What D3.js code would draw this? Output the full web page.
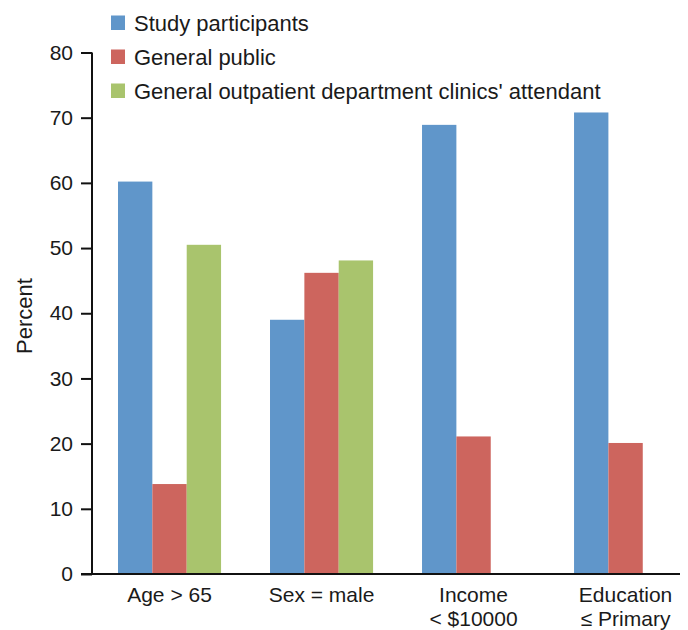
<!DOCTYPE html>
<html>
<head>
<meta charset="utf-8">
<script src="https://cdn.jsdelivr.net/npm/d3@7"></script>
<style>
  html, body { margin: 0; padding: 0; background: #fff; }
  text { font-family: "Liberation Sans", Arial, sans-serif; fill: #1a1a1a; }
</style>
</head>
<body>
<svg id="chart" width="688" height="630"></svg>
<script>
const categories = [["Age > 65"], ["Sex = male"], ["Income", "< $10000"], ["Education", "≤ Primary"]];
const seriesNames = ["Study participants", "General public", "General outpatient department clinics' attendant"];
const studyParticipants = [60.2, 39.0, 68.9, 70.8];
const generalPublic = [13.8, 46.2, 21.1, 20.1];
const gopcAttendant = [50.5, 48.1, null, null];
const yTicks = [0, 10, 20, 30, 40, 50, 60, 70, 80];
const colors = ["#6096ca", "#cd655e", "#a9c46d"];

const seriesValues = [studyParticipants, generalPublic, gopcAttendant];
const svg = d3.select("#chart");

const x0 = d3.scaleBand().domain(d3.range(categories.length))
  .range([92, 680]).paddingInner(0.322).paddingOuter(0.095).align(0.9);
const x1 = d3.scaleBand().domain(d3.range(seriesNames.length)).range([0, x0.bandwidth()]);
const y = d3.scaleLinear().domain([0, 80]).range([574, 52.5]);

// bars
categories.forEach((c, ci) => {
  seriesValues.forEach((vals, si) => {
    const v = vals[ci];
    if (v == null) return;
    svg.append("rect")
      .attr("x", x0(ci) + x1(si))
      .attr("y", y(v))
      .attr("width", x1.bandwidth())
      .attr("height", y(0) - y(v))
      .attr("fill", colors[si]);
  });
});

// y axis
const yAxis = d3.axisLeft(y).tickValues(yTicks).tickSize(11).tickPadding(8);
const gy = svg.append("g").attr("transform", "translate(92,0)").call(yAxis);
gy.select(".domain").attr("stroke", "#111").attr("stroke-width", 2).attr("d", "M0," + y(80) + "V" + y(0));
gy.selectAll(".tick line").attr("stroke", "#111").attr("stroke-width", 2);
gy.selectAll(".tick text").style("font-size", "21px").style("font-family", "'Liberation Sans', Arial, sans-serif").attr("fill", "#1a1a1a");

// x axis baseline
const xAxis = d3.axisBottom(x0).tickSize(0).tickFormat("");
const gx = svg.append("g").attr("transform", "translate(0," + y(0) + ")").call(xAxis);
gx.select(".domain").attr("stroke", "#111").attr("stroke-width", 2).attr("d", "M81,0H680");

// x labels
categories.forEach((c, ci) => {
  const cx = x0(ci) + x0.bandwidth() / 2;
  const t = svg.append("text").attr("x", cx).attr("y", 602)
    .attr("text-anchor", "middle").style("font-size", "21px");
  c.forEach((line, li) => {
    t.append("tspan").attr("x", cx).attr("dy", li === 0 ? 0 : 24).text(line);
  });
});

// y label
svg.append("text")
  .attr("transform", "translate(32," + 316 + ") rotate(-90)")
  .attr("text-anchor", "middle").style("font-size", "22px").text("Percent");

// legend
seriesNames.forEach((name, i) => {
  const base = 31 + i * 34;
  svg.append("rect").attr("x", 111).attr("y", base - 15.5).attr("width", 14).attr("height", 14.5).attr("fill", colors[i]);
  svg.append("text").attr("x", 134).attr("y", base).style("font-size", "22px").text(name);
});
</script>
</body>
</html>
